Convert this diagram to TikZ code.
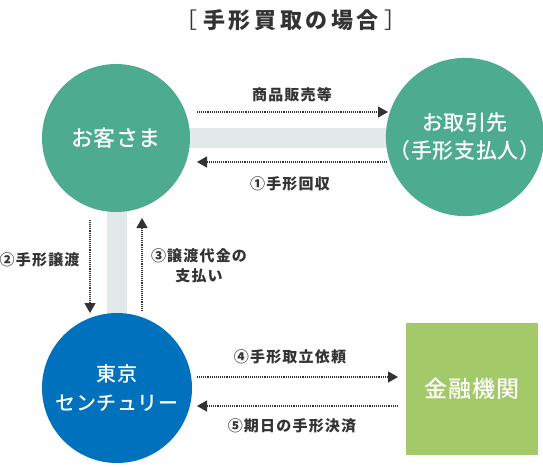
\documentclass[tikz,border=0pt]{standalone}
\usepackage{fontspec}
\setmainfont{Noto Sans CJK JP}
\newfontfamily\titlefont{Noto Sans CJK JP}[LetterSpace=16]
\newfontfamily\labelfont{Noto Sans CJK JP}[LetterSpace=8]
\newfontfamily\partyfont{Noto Sans CJK JP Medium}[LetterSpace=3]
\definecolor{custgreen}{RGB}{77, 171, 143}
\definecolor{tcblue}{RGB}{0, 113, 188}
\definecolor{bankgreen}{RGB}{163, 201, 104}
\definecolor{bandgray}{RGB}{227, 232, 232}
\definecolor{arrowgray}{RGB}{51, 51, 51}
\usetikzlibrary{arrows.meta, positioning}

\begin{document}
\begin{tikzpicture}[x=1pt, y=-1pt,
  party/.style={circle, inner sep=0pt, minimum size=148pt, text=white, align=center, font=\partyfont\fontsize{22}{28}\selectfont},
  flow/.style={draw=arrowgray, line width=1.3pt, dash pattern=on 1pt off 0.9pt, -{Triangle[length=10pt, width=11pt]}},
  flowlabel/.style={text=arrowgray, align=center, font=\labelfont\bfseries\fontsize{15}{20}\selectfont}]
  \useasboundingbox (0,0) rectangle (543,466);

  % title
  \node[text=arrowgray, font=\titlefont\fontsize{22}{26}\selectfont] (title) at (291,20) {{\mdseries［}\hspace{2pt}\textbf{手形買取の場合}\hspace{2pt}{\mdseries］}};

  % background bands
  \fill[bandgray] (116,128) rectangle (465,148);
  \fill[bandgray] (107,138) rectangle (127,388);

  % parties
  \node[party, fill=custgreen] (customer) at (116,138) {お客さま};
  \node[party, fill=custgreen, minimum size=146pt, font=\partyfont\fontsize{21}{28}\selectfont] (partner) at (465,137) {お取引先\\（手形支払人）};
  \node[party, fill=tcblue, minimum size=150pt, font=\partyfont\fontsize{20}{29}\selectfont] (tc) at (117,388) {東京\\センチュリー};
  \node[fill=bankgreen, minimum width=132pt, minimum height=132pt, text=white, font=\partyfont\fontsize{23}{28}\selectfont] (bank) at (472,389) {金融機関};

  % arrow ends
  \coordinate (saleA) at (197,112);
  \coordinate (saleB) at (388,112);
  \coordinate (billA) at (387,162);
  \coordinate (billB) at (197,162);
  \coordinate (giveA) at (90,220);
  \coordinate (giveB) at (90,313);
  \coordinate (payA) at (142,311);
  \coordinate (payB) at (142,218);
  \coordinate (askA) at (197,377);
  \coordinate (askB) at (398,377);
  \coordinate (settleA) at (398,406);
  \coordinate (settleB) at (197,406);

  \draw[flow] (saleA) -- (saleB);
  \draw[flow] (billA) -- (billB);
  \draw[flow] (giveA) -- (giveB);
  \draw[flow] (payA) -- (payB);
  \draw[flow] (askA) -- (askB);
  \draw[flow] (settleA) -- (settleB);

  % labels
  \node[flowlabel] (sale) at (292,95) {商品販売等};
  \node[flowlabel] (bill) at (290,184) {①手形回収};
  \node[flowlabel, anchor=east] (give) at (83,260) {②手形譲渡};
  \node[flowlabel] (pay) at (199,266) {③譲渡代金の\\支払い};
  \node[flowlabel] (ask) at (290,357) {④手形取立依頼};
  \node[flowlabel] (settle) at (292,426) {⑤期日の手形決済};
\end{tikzpicture}
\end{document}
